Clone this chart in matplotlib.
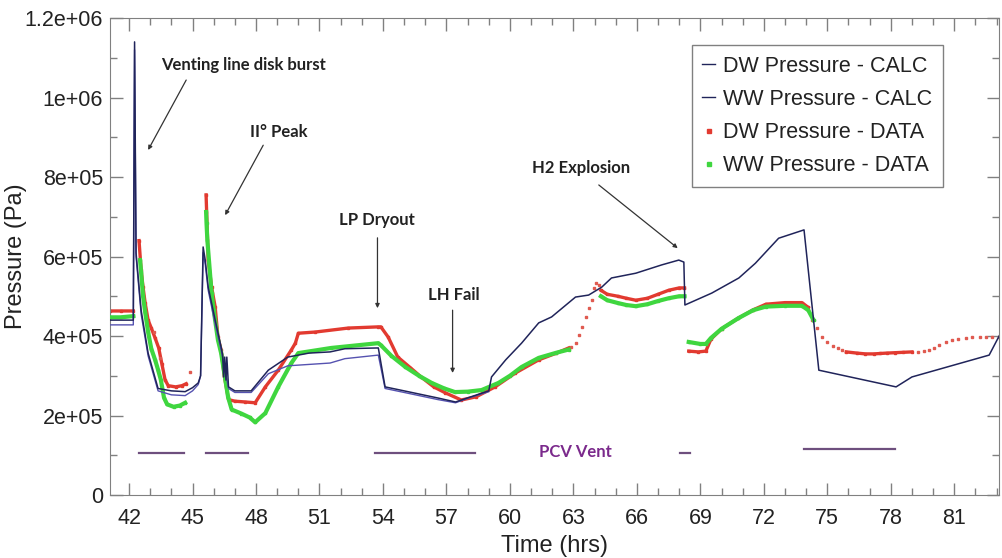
import numpy as np
import matplotlib
matplotlib.use("Agg")
import matplotlib.pyplot as plt
from matplotlib.ticker import MultipleLocator, FuncFormatter
from matplotlib.lines import Line2D

nan = np.nan

# calculated pressures (hrs, Pa)
dw_calc_t = [41.1, 42.2, 42.26, 42.33, 42.57, 42.9, 43.37, 44.0, 44.65, 45.0, 45.27, 45.38, 45.5,
             45.6, 45.74, 46.07, 46.35, 46.42, 46.47, 46.52, 46.58, 46.62, 46.7, 47.0, 47.77,
             48.58, 49.5, 50.5, 51.5, 52.2, 53.78, 54.1, 55.0, 56.6, 57.43, 58.04, 59.0, 59.13,
             59.8, 60.55, 61.36, 61.97, 63.1, 63.72, 64.34, 64.8, 65.95, 67.18, 67.98, 68.22,
             68.27, 69.54, 70.82, 71.6, 72.7, 73.9, 74.6, 78.25, 79.0, 82.65, 83.2]
dw_calc_p = [440e3, 440e3, 1140e3, 609e3, 465e3, 357e3, 268e3, 262e3, 260e3, 270e3, 282e3, 300e3, 624e3,
             591e3, 523e3, 440e3, 372e3, 353e3, 297e3, 347e3, 289e3, 347e3, 272e3, 262e3, 262e3,
             314e3, 347e3, 357e3, 360e3, 368e3, 370e3, 272e3, 262e3, 244e3, 234e3, 245e3, 262e3, 297e3,
             340e3, 382e3, 433e3, 448e3, 498e3, 503e3, 523e3, 546e3, 558e3, 579e3, 591e3, 586e3,
             478e3, 508e3, 546e3, 583e3, 646e3, 667e3, 314e3, 272e3, 297e3, 352e3, 408e3]

ww_calc_t = [41.1, 42.2, 42.26, 42.33, 42.57, 42.9, 43.37, 44.0, 44.65, 45.0, 45.27, 45.38, 45.5,
             45.6, 45.74, 46.07, 46.35, 46.7, 47.0, 47.77, 48.58, 49.5, 51.5, 52.2, 53.78, 54.1,
             55.0, 56.6, 57.43, 58.04, 59.0]
ww_calc_p = [428e3, 428e3, 1120e3, 600e3, 455e3, 350e3, 262e3, 252e3, 250e3, 262e3, 278e3, 300e3, 610e3,
             580e3, 515e3, 430e3, 365e3, 268e3, 258e3, 258e3, 305e3, 325e3, 332e3, 343e3, 352e3, 268e3,
             258e3, 240e3, 232e3, 244e3, 260e3]

# measured drywell pressure (dense runs split by nan)
dw_data_t = [41.1, 41.6, 42.2, nan,
             42.47, 42.57, 42.66, 42.76, 42.9, 43.05, 43.23, 43.4, 43.55, 43.7, 43.85, 44.2, 44.5, 44.7, nan,
             45.64, 45.74, 45.9, 46.07, 46.2, 46.35, 46.5, 46.7, 47.0, 47.5, 47.96, 48.44, 49.05,
             49.67, 49.86, 50.0, 50.8, 52.36, 53.78, 53.9, 54.25, 54.7, 55.3, 55.8, 56.4, 56.95,
             57.7, 58.4, 59.3, 60.26, 61.36, 62.2, 62.78, nan,
             64.3, 64.6, 65.1, 65.5, 65.95, 66.5, 67.0, 67.5, 68.0, 68.25, nan,
             68.45, 68.9, 69.26, 69.5, 70.0, 70.8, 71.5, 72.1, 73.0, 73.8, 74.1, nan,
             75.9, 76.4, 76.8, 77.2, 77.5, 77.8, 78.2, 78.6, 79.0]
dw_data_p = [463e3, 463e3, 463e3, nan,
             640e3, 566e3, 523e3, 483e3, 440e3, 420e3, 395e3, 370e3, 330e3, 290e3, 275e3, 272e3, 275e3, 280e3, nan,
             755e3, 591e3, 523e3, 473e3, 397e3, 365e3, 300e3, 240e3, 236e3, 234e3, 232e3, 272e3, 314e3,
             365e3, 382e3, 407e3, 410e3, 420e3, 423e3, 423e3, 397e3, 347e3, 320e3, 297e3, 272e3, 257e3,
             239e3, 247e3, 272e3, 307e3, 340e3, 357e3, 370e3, nan,
             515e3, 505e3, 500e3, 495e3, 490e3, 495e3, 505e3, 515e3, 521e3, 521e3, nan,
             362e3, 360e3, 362e3, 392e3, 418e3, 445e3, 466e3, 480e3, 484e3, 484e3, 472e3, nan,
             360e3, 357e3, 355e3, 355e3, 356e3, 357e3, 358e3, 359e3, 360e3]

# isolated drywell readings
dw_pts_t = [43.2, 43.45, 44.9, 62.9, 63.1, 63.25, 63.4, 63.58, 63.72, 63.86, 63.96, 64.05, 64.2,
            74.3, 74.5, 74.75, 75.0, 75.25, 75.5, 75.7,
            79.3, 79.55, 79.8, 80.05, 80.3, 80.6, 80.9, 81.2, 81.55, 81.85, 82.2, 82.5, 82.8, 83.1]
dw_pts_p = [410e3, 345e3, 310e3, 372e3, 382e3, 402e3, 423e3, 448e3, 470e3, 490e3, 521e3, 533e3, 528e3,
            440e3, 420e3, 397e3, 385e3, 376e3, 369e3, 364e3,
            361e3, 362e3, 364e3, 370e3, 378e3, 384e3, 390e3, 393e3, 396e3, 397e3, 397e3, 397e3, 398e3, 398e3]

# measured wetwell pressure
ww_data_t = [41.1, 41.6, 42.2, nan,
             42.52, 42.57, 42.66, 42.76, 42.9, 43.05, 43.23, 43.37, 43.5, 43.65, 43.8, 44.1, 44.4, 44.65, nan,
             45.64, 45.66, 45.7, 45.9, 46.0, 46.2, 46.35, 46.68, 46.85, 47.3, 47.7, 47.96, 48.44,
             49.05, 49.67, 50.0, 51.56, 53.78, 53.9, 54.4, 55.06, 55.7, 56.3, 56.9, 57.4, 58.0,
             58.66, 59.46, 60.0, 60.55, 61.36, 62.2, 62.78, nan,
             64.3, 64.6, 65.1, 65.5, 65.95, 66.5, 67.0, 67.5, 68.0, 68.25, nan,
             68.45, 69.0, 69.26, 69.5, 70.0, 70.8, 71.5, 72.1, 73.0, 73.8, 74.1, 74.35]
ww_data_p = [447e3, 447e3, 450e3, nan,
             591e3, 560e3, 500e3, 460e3, 410e3, 368e3, 340e3, 315e3, 290e3, 245e3, 228e3, 222e3, 225e3, 232e3, nan,
             712e3, 684e3, 641e3, 508e3, 465e3, 390e3, 357e3, 246e3, 215e3, 205e3, 195e3, 183e3, 206e3,
             272e3, 332e3, 357e3, 370e3, 382e3, 377e3, 350e3, 322e3, 300e3, 282e3, 268e3, 259e3, 260e3,
             264e3, 282e3, 300e3, 322e3, 345e3, 358e3, 366e3, nan,
             500e3, 490e3, 483e3, 478e3, 475e3, 480e3, 488e3, 495e3, 500e3, 500e3, nan,
             385e3, 380e3, 380e3, 395e3, 418e3, 445e3, 465e3, 474e3, 476e3, 476e3, 465e3, 440e3]

# PCV vent periods
vent_start = [42.47, 45.64, 53.6, 68.03, 73.9]
vent_end = [44.6, 47.63, 58.37, 68.5, 78.2]
vent_level = [106e3, 106e3, 106e3, 106e3, 116e3]

red = "#e23a30"
green = "#3fd63f"
navy = "#20245a"
blue = "#5552b0"

fig = plt.figure(figsize=(10.03, 5.58), dpi=100)
ax = fig.add_axes([0.1097, 0.1129, 0.886, 0.8548])

ax.plot(dw_data_t, dw_data_p, '-', color=red, lw=2.4, marker='s', ms=1.6, zorder=2)
ax.plot(dw_pts_t, dw_pts_p, 's', color="#e05a50", ms=1.8, zorder=2)
ax.plot(ww_data_t, ww_data_p, '-', color=green, lw=3.0, marker='s', ms=1.6, zorder=3)
ax.plot(ww_calc_t, ww_calc_p, color=blue, lw=1.0, zorder=4)
ax.plot(dw_calc_t, dw_calc_p, color=navy, lw=1.1, zorder=5)

for s, e, v in zip(vent_start, vent_end, vent_level):
    ax.plot([s, e], [v, v], color="#6e4f7e", lw=1.6, zorder=4)

ax.set_xlim(41.1, 83.1)
ax.set_ylim(0, 1.2e6)
ax.xaxis.set_major_locator(MultipleLocator(3))
ax.xaxis.set_minor_locator(MultipleLocator(1))
ax.yaxis.set_major_locator(MultipleLocator(2e5))
ax.yaxis.set_minor_locator(MultipleLocator(1e5))
ax.yaxis.set_major_formatter(FuncFormatter(lambda v, pos: '0' if v == 0 else '{:.2g}'.format(v)))

ax.tick_params(which='both', direction='in', top=True, right=True, color='#808080',
               labelsize=15.5, labelcolor='#222222')
ax.tick_params(which='major', length=9, width=1)
ax.tick_params(which='minor', length=5, width=1)
ax.tick_params(axis='x', which='major', pad=9)
ax.tick_params(axis='y', which='major', pad=5)
for sp in ax.spines.values():
    sp.set_color('#808080')
for lbl in ax.get_xticklabels() + ax.get_yticklabels():
    lbl.set_family('Liberation Sans')

ax.set_xlabel('Time (hrs)', fontsize=17, family='Liberation Sans', color='#222222')
ax.set_ylabel('Pressure (Pa)', fontsize=17, family='Liberation Sans', color='#222222')
ax.xaxis.set_label_coords(0.5, -0.084)
ax.yaxis.set_label_coords(-0.093, 0.5)

afont = dict(family='Lato', weight='bold', fontsize=12, color='#222222')
arrow = dict(arrowstyle='-|>', color='#333333', lw=0.9, mutation_scale=6, shrinkA=0, shrinkB=0)
ax.text(43.5, 1.082e6, 'Venting line disk burst', ha='left', va='center', **afont)
ax.annotate('', xy=(42.9, 868e3), xytext=(44.7, 1.044e6), arrowprops=arrow)
ax.text(47.73, 913e3, 'II° Peak', ha='left', va='center', **afont)
ax.annotate('', xy=(46.54, 704e3), xytext=(48.34, 880e3), arrowprops=arrow)
ax.text(53.69, 692e3, 'LP Dryout', ha='center', va='center', **afont)
ax.annotate('', xy=(53.74, 470e3), xytext=(53.74, 647e3), arrowprops=arrow)
ax.text(57.33, 503e3, 'LH Fail', ha='center', va='center', **afont)
ax.annotate('', xy=(57.29, 307e3), xytext=(57.29, 465e3), arrowprops=arrow)
ax.text(63.34, 823e3, 'H2 Explosion', ha='center', va='center', **afont)
ax.annotate('', xy=(67.93, 621e3), xytext=(64.2, 780e3), arrowprops=arrow)
ax.text(63.1, 108e3, 'PCV Vent', ha='center', va='center', family='Lato', weight='bold',
        fontsize=12, color='#7b2a8c')

handles = [Line2D([], [], color=navy, lw=1.0),
           Line2D([], [], color=navy, lw=1.0),
           Line2D([], [], ls='none', marker='s', ms=2.2, color=red),
           Line2D([], [], ls='none', marker='s', ms=2.2, color=green)]
labels = ['DW Pressure - CALC', 'WW Pressure - CALC', 'DW Pressure - DATA', 'WW Pressure - DATA']
leg = ax.legend(handles, labels, loc='upper right', bbox_to_anchor=(0.937, 0.943), borderaxespad=0,
                prop={'family': 'Liberation Sans', 'size': 15.5}, handlelength=0.6, handletextpad=0.35,
                labelspacing=0.56, borderpad=0.5, fancybox=False, framealpha=1, edgecolor='#808080')
leg.get_frame().set_linewidth(1.0)
for t in leg.get_texts():
    t.set_color('#222222')

fig.savefig('out.png', dpi=100)
